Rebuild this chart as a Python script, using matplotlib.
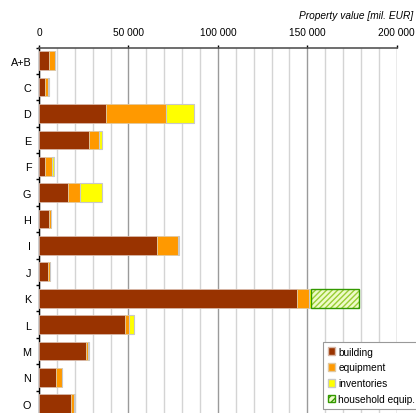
import matplotlib
matplotlib.use("Agg")
import matplotlib.pyplot as plt
from matplotlib.patches import Patch
from matplotlib.ticker import MultipleLocator, FuncFormatter
import numpy as np

plt.rcParams['font.family'] = ['Liberation Sans', 'DejaVu Sans']

categories = ["A+B", "C", "D", "E", "F", "G", "H", "I", "J", "K", "L", "M", "N", "O"]
building    = [5800, 3400, 37300, 28100, 3500, 16400, 5800, 66000, 5200, 144400, 48100, 26300, 9500, 17900]
equipment   = [3100, 1800, 33700, 5600, 3600, 6500, 700, 11900, 950, 6700, 2200, 1100, 3200, 1500]
inventories = [0, 400, 15800, 1300, 1300, 12100, 300, 500, 200, 900, 2600, 300, 0, 600]
household   = [0, 0, 0, 0, 0, 0, 0, 0, 0, 26700, 0, 0, 0, 0]

xticks = [0, 50000, 100000, 150000, 200000]
xlabel = "Property value [mil. EUR]"

W, H = 416, 414
fig = plt.figure(figsize=(W/100, H/100), dpi=100)
ax = fig.add_axes([39/W, (H-418)/H, (396.7-39)/W, (418-48.5)/H])

y = np.arange(len(categories))
bh = 0.71
b = np.array(building, float)
e = np.array(equipment, float)
inv = np.array(inventories, float)
hh = np.array(household, float)

ax.barh(y, b, height=bh, color='#993300', edgecolor='#d8b8a8', linewidth=0.6, zorder=3)
ax.barh(y, e, left=b, height=bh, color='#ff9900', edgecolor='#e0c8a0', linewidth=0.6, zorder=3)
ax.barh(y, inv, left=b+e, height=bh, color='#ffff00', edgecolor='#c8c8c8', linewidth=0.8, zorder=3)
mask = hh > 0
ax.barh(y[mask], hh[mask], left=(b+e+inv)[mask], height=bh, color='#eefbc8',
        edgecolor='#99cc33', hatch='//////', linewidth=0, zorder=3)
ax.barh(y[mask], hh[mask], left=(b+e+inv)[mask], height=bh, color='none',
        edgecolor='#339900', linewidth=1.0, zorder=4)

ax.set_xlim(0, 200000)
ax.set_ylim(len(categories)-0.5, -0.5)

ax.xaxis.tick_top()
ax.set_xticks(xticks)
ax.xaxis.set_minor_locator(MultipleLocator(10000))
ax.xaxis.set_major_formatter(FuncFormatter(lambda v, p: f"{int(v):,}".replace(",", " ")))
ax.tick_params(axis='x', which='major', direction='out', length=2.3, width=1, color='#000000',
               labelsize=7.3, pad=5)
ax.tick_params(axis='x', which='minor', length=0)

ax.set_yticks(np.arange(len(categories)+1) - 0.5)
ax.set_yticklabels([])
ax.set_yticks(y, minor=True)
ax.set_yticklabels(categories, minor=True)
ax.tick_params(axis='y', which='major', direction='out', length=2.3, width=1, color='#000000')
ax.tick_params(axis='y', which='minor', length=0, labelsize=7.8, pad=5.5)

ax.grid(axis='x', which='major', color='#9a9a9a', linewidth=1.0, zorder=0)
ax.grid(axis='x', which='minor', color='#d4d4d4', linewidth=1.0, zorder=0)
ax.grid(axis='y', which='both', visible=False)
ax.set_axisbelow(True)

ax.spines['top'].set_color('#555555')
ax.spines['top'].set_linewidth(1.2)
ax.spines['left'].set_color('#000000')
ax.spines['left'].set_linewidth(1.0)
ax.spines['right'].set_visible(False)
ax.spines['bottom'].set_visible(False)

fig.text(413/W, 1-16/H, xlabel, ha='right', va='center', style='italic', fontsize=7.3)

handles = [
    Patch(facecolor='#993300', edgecolor='#d8b8a8', label='building'),
    Patch(facecolor='#ff9900', edgecolor='#e0c8a0', label='equipment'),
    Patch(facecolor='#ffff00', edgecolor='#c8c8c8', label='inventories'),
    Patch(facecolor='#eefbc8', edgecolor='#339900', hatch='/////', label='household equip.'),
]
leg = fig.legend(handles=handles, loc='upper left', bbox_to_anchor=(322.5/W, 1-342.5/H),
                 fontsize=7.3, frameon=True, fancybox=False, framealpha=1,
                 edgecolor='#999999', handlelength=0.75, handleheight=0.75,
                 handletextpad=0.3, labelspacing=0.58, borderpad=0.5, borderaxespad=0)
leg.get_frame().set_linewidth(0.8)

fig.savefig("out.png", dpi=100)
